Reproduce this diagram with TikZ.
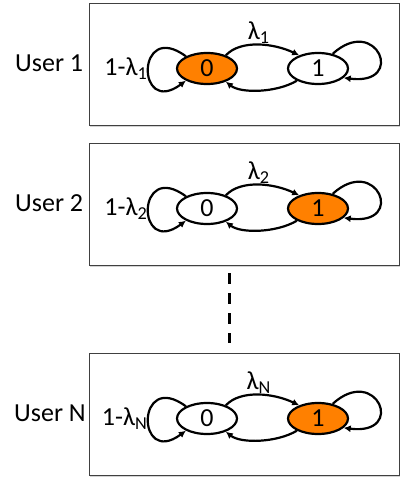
\documentclass[tikz,border=0pt]{standalone}
\usepackage{fontspec}
\setmainfont{Carlito}
\usetikzlibrary{shapes.geometric,arrows.meta,shadows}
\definecolor{stateorange}{RGB}{255,128,0}
\tikzset{
  panel/.style={draw=black!75, line width=0.9pt, fill=white, minimum width=310pt,
    minimum height=122pt, inner sep=0pt,
    drop shadow={shadow xshift=1pt, shadow yshift=-1.5pt, opacity=0.35}},
  stnode/.style={ellipse, draw, line width=2.2pt, minimum width=60pt, minimum height=31pt,
    inner sep=0pt, fill=white, font=\fontsize{26}{30}\selectfont},
  sthot/.style={stnode, fill=stateorange},
  trans/.style={line width=2.2pt, -{Latex[length=7pt,width=7pt]}},
  lbl/.style={inner sep=1pt, font=\fontsize{26}{30}\selectfont},
  gapline/.style={line width=3pt, dash pattern=on 10.5pt off 9.5pt}
}
\begin{document}
\begin{tikzpicture}[x=1pt,y=1pt,yscale=-1]
  \useasboundingbox (0,0) rectangle (401,479);

  %Shape: Rectangle [id:panel1]
  \node[panel] (box1) at (244,64) {};
  % Text Node
  \node[lbl, anchor=west] (user1) at (14,63) {User 1};
  %Shape: Ellipse [id:states1]
  \node[sthot] (u1s0) at (207,68.5) {0};
  \node[stnode] (u1s1) at (318,68.5) {1};
  %Curve Lines [id:edges1]
  \draw[trans] (u1s0.35) .. controls +(15,-16) and +(-25,-12) .. (u1s1.145)
    node[lbl, pos=0.5, above, inner sep=0pt] (lam1) {λ\textsubscript{1}};
  \draw[trans] (u1s1.-150) .. controls +(-20,12) and +(15,12) .. (u1s0.-35);
  \draw[trans] (u1s0.150) .. controls +(-50,-37) and +(-50,37) .. (u1s0.-150)
    node[lbl, pos=0.5, anchor=east, inner sep=0pt] (stay1) {1-λ\textsubscript{1}};
  \draw[trans] (u1s1.45) .. controls +(44,-40) and +(63,8) .. (u1s1.-20);

  %Shape: Rectangle [id:panel2]
  \node[panel] (box2) at (244,204) {};
  % Text Node
  \node[lbl, anchor=west] (user2) at (14,203) {User 2};
  %Shape: Ellipse [id:states2]
  \node[stnode] (u2s0) at (207,208.5) {0};
  \node[sthot] (u2s1) at (318,208.5) {1};
  %Curve Lines [id:edges2]
  \draw[trans] (u2s0.35) .. controls +(15,-16) and +(-25,-12) .. (u2s1.145)
    node[lbl, pos=0.5, above, inner sep=0pt] (lam2) {λ\textsubscript{2}};
  \draw[trans] (u2s1.-150) .. controls +(-20,12) and +(15,12) .. (u2s0.-35);
  \draw[trans] (u2s0.150) .. controls +(-50,-37) and +(-50,37) .. (u2s0.-150)
    node[lbl, pos=0.5, anchor=east, inner sep=0pt] (stay2) {1-λ\textsubscript{2}};
  \draw[trans] (u2s1.45) .. controls +(44,-40) and +(63,8) .. (u2s1.-20);

  %Straight Lines [id:gap]
  \coordinate (gaptop) at (229,273);
  \coordinate (gapbot) at (229,343);
  \draw[gapline] (gaptop) -- (gapbot);

  %Shape: Rectangle [id:panel3]
  \node[panel] (box3) at (244,414) {};
  % Text Node
  \node[lbl, anchor=west] (user3) at (13,413) {User N};
  %Shape: Ellipse [id:states3]
  \node[stnode] (u3s0) at (207,418.5) {0};
  \node[sthot] (u3s1) at (318,418.5) {1};
  %Curve Lines [id:edges3]
  \draw[trans] (u3s0.35) .. controls +(15,-16) and +(-25,-12) .. (u3s1.145)
    node[lbl, pos=0.5, above, inner sep=0pt] (lam3) {λ\textsubscript{N}};
  \draw[trans] (u3s1.-150) .. controls +(-20,12) and +(15,12) .. (u3s0.-35);
  \draw[trans] (u3s0.150) .. controls +(-50,-37) and +(-50,37) .. (u3s0.-150)
    node[lbl, pos=0.5, anchor=east, inner sep=0pt] (stay3) {1-λ\textsubscript{N}};
  \draw[trans] (u3s1.45) .. controls +(44,-40) and +(63,8) .. (u3s1.-20);
\end{tikzpicture}
\end{document}
